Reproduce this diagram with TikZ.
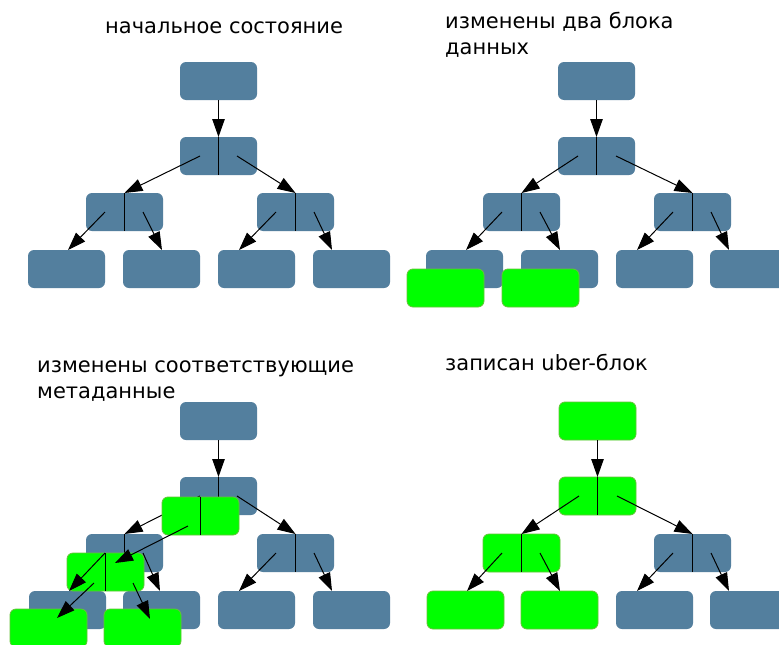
\documentclass[tikz,border=0pt]{standalone}
\usepackage{fontspec}
\setmainfont{DejaVu Sans}
\usetikzlibrary{calc,arrows.meta}
\definecolor{blk}{HTML}{537F9E}
\definecolor{grn}{HTML}{00FF00}
\definecolor{grnb}{HTML}{66C23A}
\begin{document}
\begin{tikzpicture}[x=1pt,y=-1pt,
  box/.style={rectangle,rounded corners=6pt,minimum width=77pt,minimum height=38pt,inner sep=0pt,outer sep=0pt,anchor=north west},
  bbox/.style={box,fill=blk},
  gbox/.style={box,fill=grn,draw=grnb,line width=0.8pt},
  div/.style={draw=black,line width=1.1pt},
  arr/.style={draw=black,line width=1pt,-{Triangle[length=18pt,width=12.5pt]}},
  lbl/.style={font=\fontsize{21}{25.5}\selectfont,anchor=base west,inner sep=0pt,align=left}]
\useasboundingbox (0,0) rectangle (779,645);
\clip (0,0) rectangle (779,645);
\fill[white] (0,0) rectangle (779,645);

% ---------- labels (anchor = baseline of the last line) ----------
\node[lbl] (t1) at (105,33) {начальное состояние};
\node[lbl] (t2) at (445,54) {изменены два блока\\данных};
\node[lbl] (t3) at (37,398) {изменены соответствующие\\метаданные};
\node[lbl] (t4) at (445,370) {записан uber-блок};

% ---------- tree 1: initial state ----------
\node[bbox] (aR) at (180,62) {};
\node[bbox] (aM) at (180,137) {};
\node[bbox] (aL) at (86,193) {};
\node[bbox] (aP) at (257,193) {};
\node[bbox] (a1) at (28,250) {};
\node[bbox] (a2) at (123,250) {};
\node[bbox] (a3) at (218,250) {};
\node[bbox] (a4) at (313,250) {};
\draw[div] (aM.north) -- (aM.south);
\draw[div] (aL.north) -- (aL.south);
\draw[div] (aP.north) -- (aP.south);
\draw[arr] (aR.south) -- (aM.north);
\draw[arr] ($(aM.north west)+(20,19)$) -- (aL.north);
\draw[arr] ($(aM.north west)+(57,19)$) -- (aP.north);
\draw[arr] ($(aL.north west)+(19,19)$) -- ($(a1.north west)+(40,0)$);
\draw[arr] ($(aL.north west)+(57,19)$) -- ($(a2.north west)+(39,0)$);
\draw[arr] ($(aP.north west)+(19,19)$) -- ($(a3.north west)+(21,0)$);
\draw[arr] ($(aP.north west)+(57,19)$) -- ($(a4.north west)+(19,0)$);

% ---------- tree 2: two data blocks changed ----------
\node[bbox] (bR) at (558,62) {};
\node[bbox] (bM) at (558,137) {};
\node[bbox] (bL) at (483,193) {};
\node[bbox] (bP) at (654,193) {};
\node[bbox] (b1) at (426,250) {};
\node[bbox] (b2) at (521,250) {};
\node[bbox] (b3) at (616,250) {};
\node[bbox] (b4) at (710,250) {};
\draw[div] (bM.north) -- (bM.south);
\draw[div] (bL.north) -- (bL.south);
\draw[div] (bP.north) -- (bP.south);
\draw[arr] (bR.south) -- (bM.north);
\draw[arr] ($(bM.north west)+(20,19)$) -- (bL.north);
\draw[arr] ($(bM.north west)+(58,19)$) -- (bP.north);
\draw[arr] ($(bL.north west)+(19,19)$) -- ($(b1.north west)+(40,0)$);
\draw[arr] ($(bL.north west)+(57,19)$) -- ($(b2.north west)+(39,0)$);
\draw[arr] ($(bP.north west)+(19,19)$) -- ($(b3.north west)+(21,0)$);
\draw[arr] ($(bP.north west)+(57,19)$) -- ($(b4.north west)+(19,0)$);
\node[gbox] (bG1) at (407,269) {};
\node[gbox] (bG2) at (502,269) {};

% ---------- tree 3: metadata changed ----------
\node[bbox] (cR) at (180,402) {};
\node[bbox] (cM) at (180,477) {};
\node[bbox] (cL) at (86,534) {};
\node[bbox] (cP) at (257,534) {};
\node[bbox] (c1) at (29,591) {};
\node[bbox] (c2) at (123,591) {};
\node[bbox] (c3) at (218,591) {};
\node[bbox] (c4) at (313,591) {};
\draw[div] (cM.north) -- (cM.south);
\draw[div] (cL.north) -- (cL.south);
\draw[div] (cP.north) -- (cP.south);
\draw[arr] (cR.south) -- (cM.north);
\draw[arr] ($(cM.north west)+(20,19)$) -- (cL.north);
\draw[arr] ($(cM.north west)+(57,19)$) -- (cP.north);
\draw[arr] ($(cP.north west)+(19,19)$) -- ($(c3.north west)+(21,0)$);
\draw[arr] ($(cP.north west)+(57,19)$) -- ($(c4.north west)+(19,0)$);
\node[gbox] (cGM) at (162,497) {};
\draw[div] (cGM.north) -- (cGM.south);
\node[gbox] (cGL) at (67,553) {};
\draw[div] (cGL.north) -- (cGL.south);
\draw[arr] ($(cL.north west)+(19,19)$) -- ($(c1.north west)+(40,0)$);
\draw[arr] ($(cL.north west)+(57,19)$) -- ($(c2.north west)+(37,0)$);
\node[gbox] (cG1) at (10,609) {};
\node[gbox] (cG2) at (104,609) {};
\draw[arr] ($(cGM.north west)+(26,29)$) -- ($(cGL.north west)+(48,10)$);
\draw[arr] ($(cGL.north west)+(27,30)$) -- ($(cG1.north west)+(47,9)$);
\draw[arr] ($(cGL.north west)+(66,30)$) -- ($(cG2.north west)+(46,10)$);

% ---------- tree 4: uber-block written ----------
\node[gbox] (dR) at (559,402) {};
\node[gbox] (dM) at (559,477) {};
\node[gbox] (dL) at (483,534) {};
\node[bbox] (dP) at (654,534) {};
\node[gbox] (d1) at (427,591) {};
\node[gbox] (d2) at (521,591) {};
\node[bbox] (d3) at (616,591) {};
\node[bbox] (d4) at (710,591) {};
\draw[div] (dM.north) -- (dM.south);
\draw[div] (dL.north) -- (dL.south);
\draw[div] (dP.north) -- (dP.south);
\draw[arr] (dR.south) -- (dM.north);
\draw[arr] ($(dM.north west)+(20,19)$) -- (dL.north);
\draw[arr] ($(dM.north west)+(58,19)$) -- (dP.north);
\draw[arr] ($(dL.north west)+(19,19)$) -- ($(d1.north west)+(40,0)$);
\draw[arr] ($(dL.north west)+(57,19)$) -- ($(d2.north west)+(39,0)$);
\draw[arr] ($(dP.north west)+(19,19)$) -- ($(d3.north west)+(21,0)$);
\draw[arr] ($(dP.north west)+(57,19)$) -- ($(d4.north west)+(19,0)$);
\end{tikzpicture}
\end{document}
